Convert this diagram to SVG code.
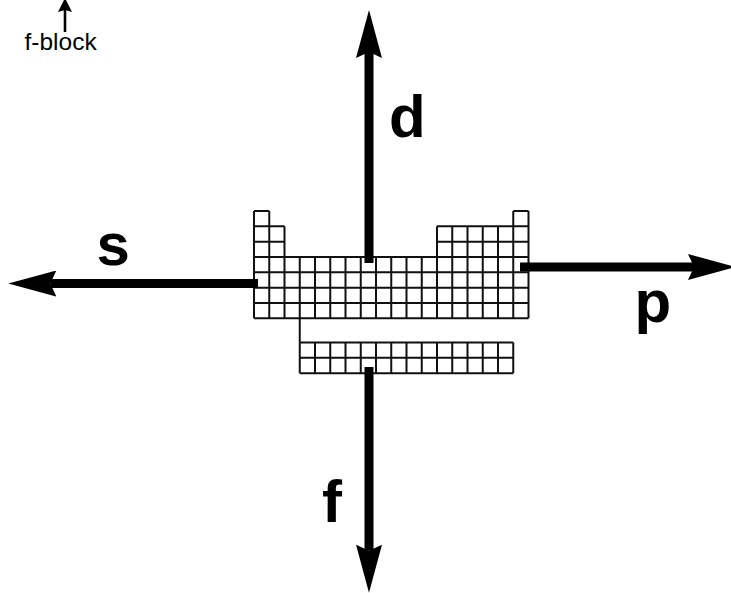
<svg xmlns="http://www.w3.org/2000/svg" width="731" height="593" viewBox="0 0 731 593">
<style>
.grid{fill:none;stroke:#111;stroke-width:2}
.bar{stroke:#000;stroke-width:9;fill:none}
.thin{stroke:#000;stroke-width:2.6;fill:none}
.big{font-family:"Liberation Sans",Arial,sans-serif;font-weight:bold;font-size:60px;fill:#000}
.small{font-family:"Liberation Sans",Arial,sans-serif;font-size:24.5px;fill:#000}
</style>
<defs>
<marker id="head" viewBox="0 0 48 26" refX="6" refY="13" markerWidth="48" markerHeight="26" markerUnits="userSpaceOnUse" orient="auto">
<path d="M0,0 L48,13 L0,26 L6,13 Z" fill="#000"/>
</marker>
<marker id="headSmall" viewBox="0 0 14 14" refX="2" refY="7" markerWidth="14" markerHeight="14" markerUnits="userSpaceOnUse" orient="auto">
<path d="M0,0 L14,7 L0,14 L2,7 Z" fill="#000"/>
</marker>
</defs>
<rect width="731" height="593" fill="#fff"/>
<g id="periodic-table">
<path class="grid" d="M254,211H269.25M513.25,211H528.5M254,226.33H284.5M437,226.33H528.5M254,241.67H284.5M437,241.67H528.5M254,257H528.5M254,272.33H528.5M254,287.67H528.5M254,303H528.5M254,318.33H528.5M254,211V318.33M269.25,211V318.33M284.5,226.33V318.33M299.75,257V318.33M315,257V318.33M330.25,257V318.33M345.5,257V318.33M360.75,257V318.33M376,257V318.33M391.25,257V318.33M406.5,257V318.33M421.75,257V318.33M437,226.33V318.33M452.25,226.33V318.33M467.5,226.33V318.33M482.75,226.33V318.33M498,226.33V318.33M513.25,211V318.33M528.5,211V318.33"/>
<path class="grid" d="M299.75,318.33V342.5"/>
<path class="grid" d="M299.75,342.5H513.25M299.75,357.83H513.25M299.75,373.17H513.25M299.75,342.5V373.17M315,342.5V373.17M330.25,342.5V373.17M345.5,342.5V373.17M360.75,342.5V373.17M376,342.5V373.17M391.25,342.5V373.17M406.5,342.5V373.17M421.75,342.5V373.17M437,342.5V373.17M452.25,342.5V373.17M467.5,342.5V373.17M482.75,342.5V373.17M498,342.5V373.17M513.25,342.5V373.17"/>
</g>
<g id="connectors">
<line class="bar" x1="369" y1="263" x2="369" y2="52" marker-end="url(#head)"/>
<line class="bar" x1="369" y1="367" x2="369" y2="550.7" marker-end="url(#head)"/>
<line class="bar" x1="258" y1="283.5" x2="50.3" y2="283.5" marker-end="url(#head)"/>
<line class="bar" x1="520" y1="267" x2="694" y2="267" marker-end="url(#head)"/>
<line class="thin" x1="65" y1="32" x2="65" y2="10" marker-end="url(#headSmall)"/>
</g>
<g id="label-d"><text class="big" x="389" y="137">d</text></g>
<g id="label-s"><text class="big" x="96.5" y="264.5">s</text></g>
<g id="label-p"><text class="big" x="634.5" y="322">p</text></g>
<g id="label-f"><text class="big" x="322" y="521.5">f</text></g>
<g id="label-fblock"><text class="small" x="24.5" y="50">f-block</text></g>
</svg>
